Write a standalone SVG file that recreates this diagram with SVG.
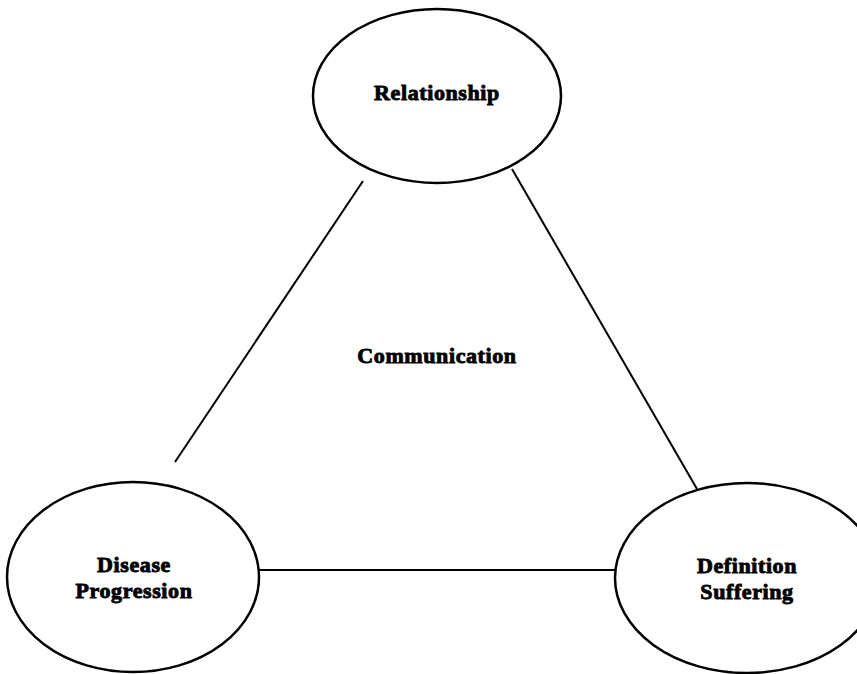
<svg xmlns="http://www.w3.org/2000/svg" width="857" height="674" viewBox="0 0 857 674">
<style>
.node{fill:#fff;stroke:#000;stroke-width:2.5}
.edge{stroke:#000;stroke-width:2;fill:none}
text{font-family:"Liberation Serif","Times New Roman",serif;font-weight:bold;font-size:22px;fill:#000;stroke:#000;stroke-width:0.9;letter-spacing:0.6px;text-anchor:middle}
</style>
<rect width="857" height="674" fill="#fff"/>
<g id="connectors">
<line class="edge" x1="363" y1="181" x2="175" y2="462"/>
<line class="edge" x1="512" y1="169" x2="697" y2="489"/>
<line class="edge" x1="259" y1="570" x2="616" y2="570"/>
</g>
<g id="relationship">
<ellipse class="node" cx="437" cy="96" rx="124" ry="87"/>
<text x="437" y="100">Relationship</text>
</g>
<g id="communication">
<text x="437" y="363">Communication</text>
</g>
<g id="disease">
<ellipse class="node" cx="133" cy="577" rx="126" ry="95"/>
<text x="134" y="572">Disease</text>
<text x="134" y="598">Progression</text>
</g>
<g id="definition">
<ellipse class="node" cx="747" cy="578" rx="132" ry="95"/>
<text x="747" y="573">Definition</text>
<text x="747" y="599">Suffering</text>
</g>
</svg>
